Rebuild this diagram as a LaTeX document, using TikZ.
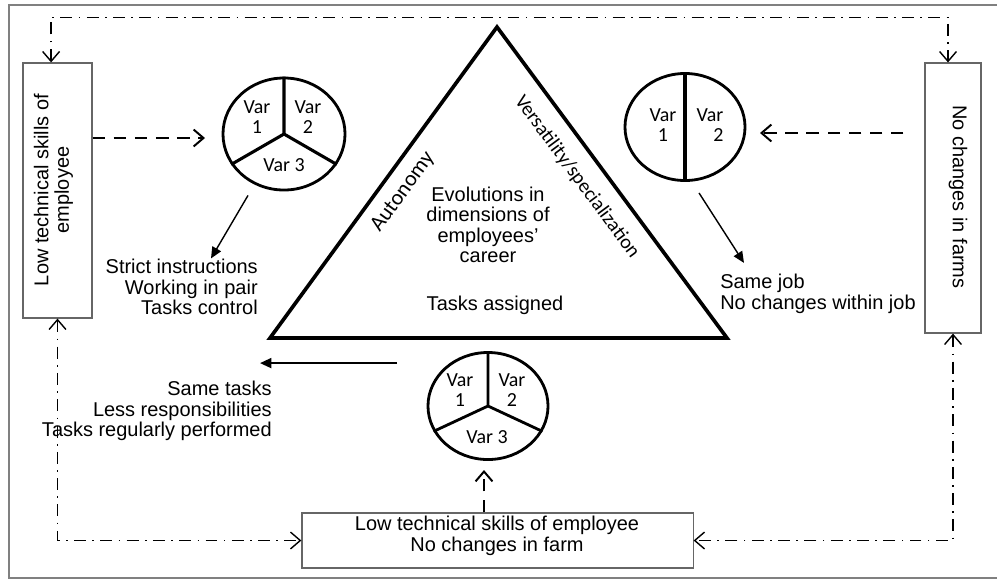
\documentclass[tikz,border=0pt]{standalone}
\usepackage{fontspec}
\setmainfont{Liberation Sans}
\newfontfamily\calibrifont{Carlito}
\usepackage{tikz}
\usetikzlibrary{positioning}
\usetikzlibrary{calc}
\usetikzlibrary{shapes.geometric}
\usetikzlibrary{arrows.meta}
\tikzset{sidebox/.style={draw=gray!80!black, line width=0.8pt, inner sep=0pt}}
\tikzset{pie/.style={ellipse, draw, line width=2pt, inner sep=0pt}}
\tikzset{txt/.style={font=\fontsize{14.2pt}{14.6pt}\selectfont, inner sep=0pt}}
\tikzset{var/.style={font=\calibrifont\fontsize{14.2pt}{14.4pt}\selectfont, align=center, inner sep=0pt}}
\tikzset{link/.style={line width=1pt, dash pattern=on 8.5pt off 4.5pt on 1.2pt off 4.5pt, {Straight Barb[length=7pt,width=12pt]}-{Straight Barb[length=7pt,width=12pt]}}}
\tikzset{hint/.style={line width=1.4pt, dash pattern=on 9pt off 6pt, -{Straight Barb[length=7pt,width=12pt]}}}
\tikzset{result/.style={line width=1pt, -{Triangle[length=8pt,width=7pt]}}}

\begin{document}
\begin{tikzpicture}[x=0.025cm, y=-0.025cm]
\clip (0,0) rectangle (997,581);
\draw[gray, line width=1.4pt] (9,5) rectangle (1012,578);

\coordinate (apex) at (497,27);
\coordinate (bl) at (270,338);
\coordinate (br) at (727,338);
\draw[line width=2.6pt] (apex) -- (bl) -- (br) -- cycle;
\node[var, font=\calibrifont\fontsize{15.6pt}{16pt}\selectfont, rotate=54] (auto) at (403,192) {Autonomy};
\node[var, rotate=-53.5] (versa) at (577,177) {Versatility/specialization};
\node[txt, align=center] (evol) at (488,225) {Evolutions in\\dimensions of\\employees'\\career};
\node[txt, anchor=base] (tasks) at (495,310) {Tasks assigned};

\node[sidebox, minimum width=1.725cm, minimum height=6.375cm] (lbox) at (57.5,190.5) {};
\node[txt, rotate=90, align=center] (ltitle) at (53.5,190) {Low technical skills of\\employee};
\node[sidebox, minimum width=1.4cm, minimum height=6.75cm] (rbox) at (953,198) {};
\node[txt, rotate=-90] (rtitle) at (958,197) {No changes in farms};
\node[sidebox, minimum width=9.775cm, minimum height=1.375cm] (bbox) at (497.5,540.5) {};
\node[txt, align=center] (btitle) at (497,536) {Low technical skills of employee\\No changes in farm};

\node[pie, minimum width=3.05cm, minimum height=2.8cm] (lpie) at (284,134) {};
\draw[line width=2.2pt] (lpie.90) -- (lpie.center) -- (lpie.210) (lpie.center) -- (lpie.330);
\node[var] (lv1) at (257,117) {Var\\1};
\node[var] (lv2) at (308,117) {Var\\2};
\node[var] (lv3) at (284,165) {Var 3};

\node[pie, minimum width=3cm, minimum height=2.675cm] (rpie) at (685,127) {};
\draw[line width=2.8pt] (rpie.90) -- (rpie.270);
\node[var] (rv1) at (663,125) {Var\\1};
\node[var, align=right] (rv2) at (710,125) {Var\\2};

\node[pie, minimum width=3cm, minimum height=2.675cm] (bpie) at (488,406) {};
\draw[line width=2pt] (bpie.90) -- (bpie.center) -- (bpie.205) (bpie.center) -- (bpie.335);
\node[var] (bv1) at (460,390) {Var\\1};
\node[var] (bv2) at (512,390) {Var\\2};
\node[var] (bv3) at (487,437) {Var 3};

\node[txt, align=right, anchor=east] (ltext) at (258,287) {Strict instructions\\Working in pair\\Tasks control};
\node[txt, align=left, anchor=west] (rtext) at (720,294) {Same job\\No changes within job};
\node[txt, align=right, anchor=east] (btext) at (272,411) {Same tasks\\Less responsibilities\\Tasks regularly performed};

\coordinate (lhint) at (205,138);
\coordinate (rhint) at (760,133);
\coordinate (bhint) at (484,470);
\draw[hint] (lbox.east |- lhint) -- (lhint);
\draw[hint, shorten <=0.525cm] (rbox.west |- rhint) -- (rhint);
\draw[hint] (bhint |- bbox.north) -- (bhint);

\draw[result] (lpie.south) ++(-36,4) -- ++(-37,63);
\draw[result] (rpie.south) ++(14,11) -- ++(45,70);
\draw[result, line width=1.4pt] (bpie.north) ++(-91,12) -- ++(-137,0);

\draw[link] ([xshift=-0.16cm]lbox.north) -- ++(0,-45) -| ([xshift=-0.125cm]rbox.north);
\draw[link] (lbox.south) |- (bbox.west);
\draw[link] (rbox.south) |- (bbox.east);
\end{tikzpicture}
\end{document}
